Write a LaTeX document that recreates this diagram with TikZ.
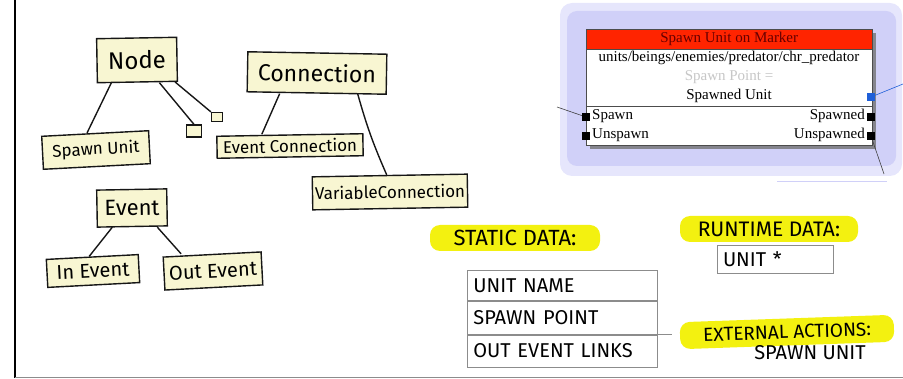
\documentclass[tikz,border=0pt]{standalone}
\usepackage{fontspec}
\setmainfont{Fira Sans}
\newfontfamily\winfont{Liberation Serif}
\usetikzlibrary{calc,positioning}
\definecolor{SketchInk}{HTML}{161616}
\definecolor{SketchPaper}{HTML}{F8F6D2}
\definecolor{SketchMarker}{HTML}{F3F110}
\definecolor{SketchRule}{HTML}{8C8C8C}
\definecolor{EditorLilacPale}{HTML}{E6E6FC}
\definecolor{EditorLilac}{HTML}{D0D0F8}
\definecolor{EditorTitle}{HTML}{FF2400}
\definecolor{EditorPort}{HTML}{1F5FD8}
\newcommand{\fsz}[1]{\fontsize{#1}{#1}\selectfont}
\tikzset{
  sketchbox/.style={draw=SketchInk, fill=SketchPaper, line width=1.4pt, inner sep=0pt, align=center},
  stub/.style={draw=SketchInk, fill=SketchPaper, line width=1.2pt, inner sep=0pt},
  link/.style={draw=SketchInk, line width=1.4pt},
  marker/.style={fill=SketchMarker, rounded corners=10pt, inner sep=0pt},
  cell/.style={draw=SketchRule, line width=.8pt, text width=178pt, inner xsep=6pt, inner ysep=0pt, align=left, font=\fsz{20}},
  wintext/.style={font=\winfont\fsz{15}, inner sep=0pt},
  port/.style={fill=black, minimum size=8pt, inner sep=0pt},
  wire/.style={draw=black!75, line width=.6pt},
}
\begin{document}
\begin{tikzpicture}[x=1pt, y=-1pt]
  \useasboundingbox (0,0) rectangle (903,379);
  % page edges
  \draw[line width=1.4pt] (15,0) -- (15,378);
  \draw[SketchRule, line width=1pt] (15,378) -- (903,378);

  % class sketches
  \node[sketchbox, minimum width=80pt, minimum height=44pt, rotate=1, font=\fsz{24}] (node) at (137,60) {Node};
  \node[sketchbox, minimum width=107pt, minimum height=33pt, rotate=3, font=\fsz{17}] (spawnunit) at (96,150) {Spawn Unit};
  \node[stub, minimum width=15pt, minimum height=12pt] (sqa) at (194,131) {};
  \node[stub, minimum width=11pt, minimum height=9pt] (sqb) at (217,117) {};
  \draw[link] ([xshift=-26pt]node.south) -- ([xshift=-8pt]spawnunit.north);
  \draw[link] ([xshift=22pt]node.south) -- (sqa.north);
  \draw[link] ([xshift=-3pt]node.south east) -- (sqb.north west);

  \node[sketchbox, minimum width=139pt, minimum height=40pt, rotate=-1, font=\fsz{23}] (connection) at (317,73) {Connection};
  \node[sketchbox, minimum width=146pt, minimum height=22pt, rotate=1, font=\fsz{17}] (eventconn) at (290,146) {Event Connection};
  \node[sketchbox, minimum width=155pt, minimum height=33pt, rotate=1, font=\fsz{17}] (varconn) at (390,192) {VariableConnection};
  \draw[link] ([xshift=-37pt]connection.south) -- ([xshift=-28pt]eventconn.north);
  \draw[link] ([xshift=41pt]connection.south) to[bend right=4] ([xshift=-3pt]varconn.north);

  \node[sketchbox, minimum width=70pt, minimum height=37pt, rotate=1, font=\fsz{22}] (event) at (132,208) {Event};
  \node[sketchbox, minimum width=92pt, minimum height=28pt, rotate=3, font=\fsz{20}] (inevent) at (93,271) {In Event};
  \node[sketchbox, minimum width=98pt, minimum height=33pt, rotate=3, font=\fsz{20}] (outevent) at (213,271) {Out Event};
  \draw[link] ([xshift=-20pt]event.south) -- ([xshift=-3pt]inevent.north);
  \draw[link] ([xshift=25pt]event.south) -- ([xshift=-31pt]outevent.north);

  % flow graph node in the editor
  \fill[EditorLilacPale, rounded corners=12pt] (560,3) rectangle (902,176);
  \fill[EditorLilac, rounded corners=10pt] (567,11) rectangle (896,166);
  \draw[EditorLilac, line width=1pt] (777,182) -- (887,182);
  \fill[black!55, opacity=.8] (590,33) rectangle (876,149);
  \node[draw=black!70, fill=white, minimum width=286pt, minimum height=116pt, anchor=north west, inner sep=0pt] (window) at (586,29) {};
  \node[draw=black!70, fill=EditorTitle, minimum width=286pt, minimum height=20pt, anchor=north west, inner sep=0pt, wintext, text=black!60!red] (title) at (586,29) {Spawn Unit on Marker};
  \node[wintext] (unitpath) at (729,58) {units/beings/enemies/predator/chr\_predator};
  \node[wintext, text=black!22] (pointlbl) at (729,77) {Spawn Point =};
  \node[wintext] (unitlbl) at (729,96) {Spawned Unit};
  \draw[black!70] (586,106) -- (872,106);
  \node[wintext, anchor=west] (spawnlbl) at (592,116) {Spawn};
  \node[wintext, anchor=west] (unspawnlbl) at (592,135) {Unspawn};
  \node[wintext, anchor=east] (spawnedlbl) at (865,116) {Spawned};
  \node[wintext, anchor=east] (unspawnedlbl) at (865,135) {Unspawned};
  \node[port] (spawnin) at (586,117) {};
  \node[port] (unspawnin) at (586,136) {};
  \node[port] (spawnedout) at (871,117) {};
  \node[port] (unspawnedout) at (871,136) {};
  \node[port, fill=EditorPort] (unitport) at (871,97) {};
  \coordinate (wirea) at (557,107);
  \coordinate (wireb) at (903,84);
  \coordinate (wirec) at (884,174);
  \draw[wire] (wirea) -- (spawnin);
  \draw[wire, EditorPort] (unitport) -- (wireb);
  \draw[wire] (unspawnedout) -- (wirec);

  % notes on the data
  \node[marker, minimum width=170pt, minimum height=26pt, font=\fsz{22}] (static) at (515,238) {STATIC DATA:};
  \node[cell, minimum height=30pt, anchor=north west] (unitname) at (467,270) {UNIT NAME};
  \node[cell, minimum height=33pt, below=0pt of unitname] (spawnpoint) {SPAWN POINT};
  \node[cell, minimum height=32pt, below=0pt of spawnpoint] (eventlinks) {OUT EVENT LINKS};
  \draw[SketchRule, line width=.8pt] (spawnpoint.south east) -- ++(14,0);

  \node[marker, minimum width=178pt, minimum height=26pt, font=\fsz{21}] (runtime) at (769,229) {RUNTIME DATA:};
  \node[draw=SketchRule, line width=.8pt, minimum width=116pt, minimum height=28pt, text width=104pt, align=left, font=\fsz{20}] (unitptr) at (775,259) {UNIT *};

  \node[marker, minimum width=214pt, minimum height=27pt, rotate=2, font=\fsz{19}] (external) at (787,332) {EXTERNAL ACTIONS:};
  \node[font=\fsz{20}] (spawnaction) at (810,353) {SPAWN UNIT};
\end{tikzpicture}
\end{document}
